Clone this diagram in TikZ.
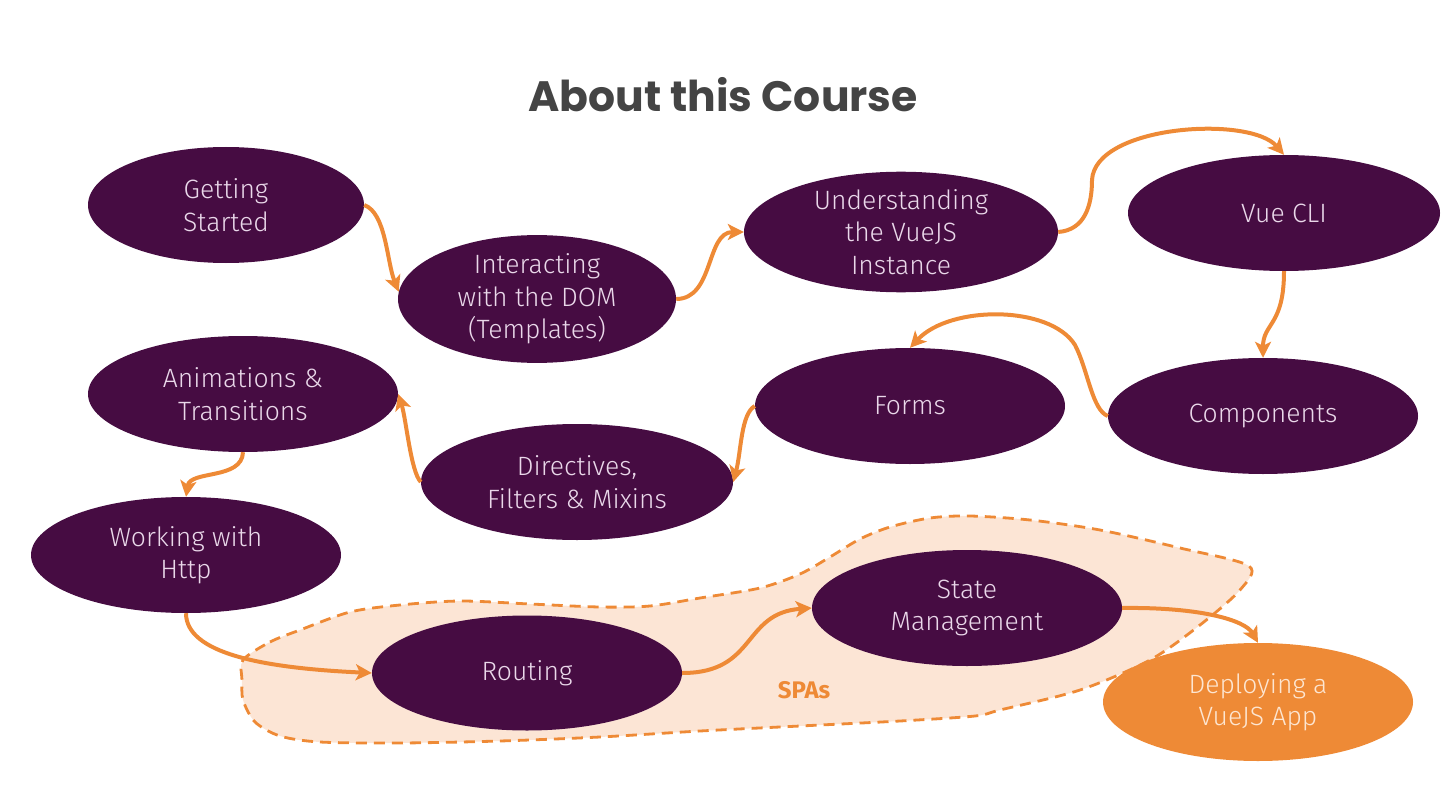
\documentclass[tikz,border=0pt]{standalone}
\usepackage{fontspec}
\usetikzlibrary{shapes.geometric,arrows.meta}
\newfontfamily\nodefont{Fira Sans Light}[BoldFont={Fira Sans Bold}]
\newfontfamily\titlefont{Poppins}
\definecolor{plum}{HTML}{460C42}
\definecolor{orng}{HTML}{EE8A36}
\definecolor{peach}{HTML}{FCE5D5}
\definecolor{lav}{HTML}{EAD8EA}
\definecolor{cream}{HTML}{FDE6D2}
\definecolor{titlegray}{HTML}{444444}
\tikzset{
  topic/.style={ellipse, fill=plum, text=lav, inner sep=0pt,
    minimum width=310pt, minimum height=116pt, align=center,
    font=\nodefont\fontsize{26.5}{32.5}\selectfont},
  conn/.style={draw=orng, line width=4pt,
    -{Stealth[length=16pt,width=16pt,inset=4pt]}},
  blob/.style={draw=orng, fill=peach, line width=2.8pt, dash pattern=on 11pt off 7pt},
}
\begin{document}
\begin{tikzpicture}[x=1pt,y=-1pt]
\useasboundingbox (0,0) rectangle (1448,805);
% SPA region
\draw[blob] plot[smooth cycle, tension=0.5] coordinates {
 (243,660) (270,642) (300,630) (350,612) (400,605) (460,601) (530,604) (600,607)
 (650,606) (700,598) (760,588) (800,574) (830,557) (860,539) (890,527) (930,518)
 (970,516) (1030,520) (1100,530) (1180,548) (1249,566) (1240,590) (1200,625)
 (1150,660) (1080,690) (1000,710) (975,716) (900,721) (800,726) (700,731)
 (600,737) (500,741) (400,743) (320,742) (280,736) (255,722) (243,700) (242,680)};
\node[text=orng, font=\nodefont\bfseries\fontsize{24}{27}\selectfont] (spa) at (804,690) {SPAs};
% title
\node[text=titlegray, font=\titlefont\bfseries\fontsize{42.5}{48}\selectfont] (title) at (723,95) {About this Course};
% topics
\node[topic, minimum width=276pt] (gs) at (226,205) {Getting\\Started};
\node[topic, minimum width=278pt] (dom) at (537,299) {Interacting\\with the DOM\\(Templates)};
\node[topic, minimum width=314pt] (und) at (901,232) {Understanding\\the VueJS\\Instance};
\node[topic, minimum width=312pt] (cli) at (1284,213) {Vue CLI};
\node[topic] (comp) at (1263,416) {Components};
\node[topic] (forms) at (910,406) {Forms};
\node[topic, minimum width=312pt] (dir) at (577,482) {Directives,\\Filters \& Mixins};
\node[topic] (anim) at (243,394) {Animations \&\\Transitions};
\node[topic] (http) at (186,555) {Working with\\Http};
\node[topic, minimum height=115pt] (rout) at (527,673) {Routing};
\node[topic] (state) at (967,608) {State\\Management};
\node[topic, fill=orng, text=cream, minimum height=118pt] (deploy) at (1258,702) {Deploying a\\VueJS App};
% connectors
\draw[conn] (gs.east) .. controls +(22,8) and +(-12,-30) .. (dom.177);
\draw[conn] (dom.east) .. controls +(38,0) and +(-38,0) .. (und.west);
\draw[conn] (und.east) .. controls (1085,230) and (1092,205) .. (1092,180)
  .. controls (1095,125) and (1250,115) .. (cli.north);
\draw[conn] (cli.south) .. controls +(0,55) and +(0,-35) .. (comp.north);
\draw[conn] (comp.west) .. controls (1092,410) and (1088,370) .. (1075,345)
  .. controls (1050,305) and (950,305) .. (forms.north);
\draw[conn] (forms.west) .. controls +(-14,8) and +(8,-30) .. (dir.east);
\draw[conn] (dir.west) .. controls +(-10,-10) and +(8,25) .. (anim.east);
\draw[conn] (anim.south) .. controls (242,480) and (190,470) .. (http.north);
\draw[conn] (http.south) .. controls +(0,40) and +(-110,-5) .. (rout.west);
\draw[conn] (rout.east) .. controls +(75,0) and +(-70,5) .. (state.west);
\draw[conn] (state.east) .. controls (1200,607) and (1245,620) .. (deploy.north);
\end{tikzpicture}
\end{document}
